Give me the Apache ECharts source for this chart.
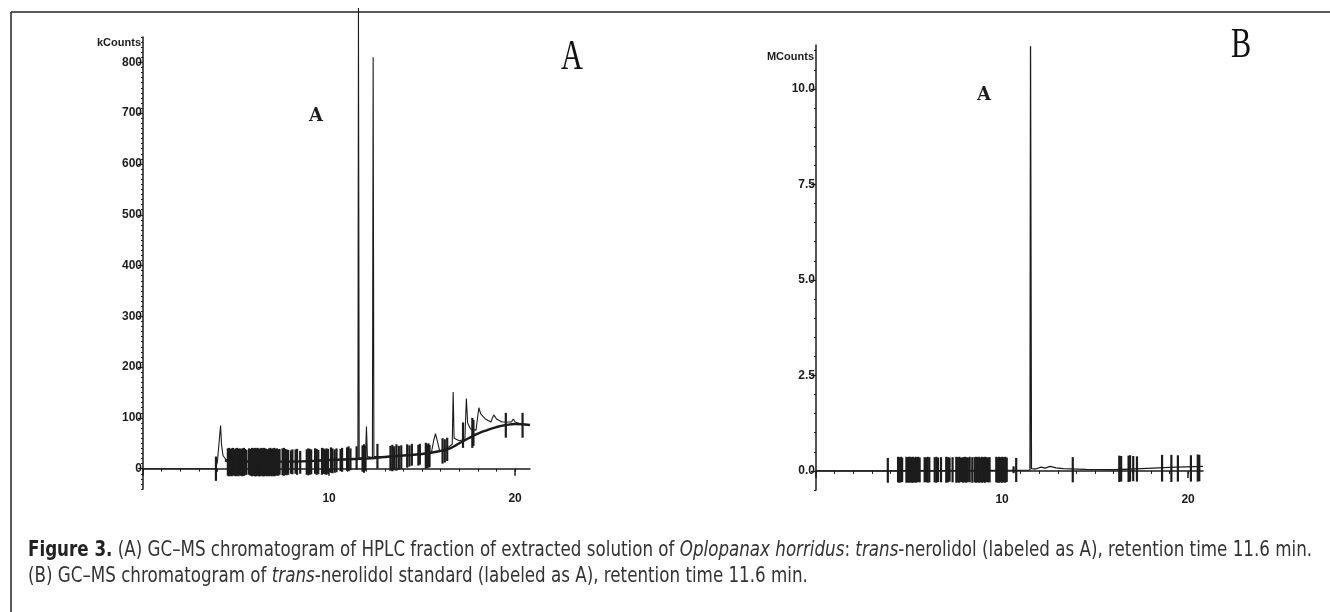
<!DOCTYPE html>
<html>
<head>
<meta charset="utf-8">
<script src="https://cdn.jsdelivr.net/npm/echarts@6/dist/echarts.min.js"></script>
<style>
  html, body { margin: 0; padding: 0; background: #fff; }
  #main { width: 1330px; height: 612px; }
</style>
</head>
<body>
<div id="main"></div>
<script>
// retention time (min) / response

// panel A : HPLC fraction, kCounts
var traceA = [
  [0, 0], [3.90, 0], [4.00, 14], [4.10, 17], [4.17, 85], [4.22, 48], [4.30, 26], [4.45, 18],
  [5.5, 15], [7.5, 14], [9.5, 15], [11.0, 19], [11.55, 20], [11.58, 907], [11.62, 21],
  [11.96, 22], [12.01, 83], [12.06, 24], [12.33, 22], [12.37, 810], [12.41, 24],
  [13.0, 24], [14.0, 26], [15.0, 29], [15.5, 31], [15.62, 55], [15.72, 69], [15.85, 50], [15.95, 34],
  [16.4, 42], [16.62, 48], [16.67, 151], [16.72, 60], [17.0, 55], [17.3, 58], [17.38, 138],
  [17.45, 90], [17.6, 78], [17.9, 76], [18.05, 120], [18.15, 108], [18.4, 98], [18.7, 92],
  [18.85, 106], [19.0, 98], [19.3, 92], [19.8, 92], [19.9, 98], [20.0, 92], [20.3, 88], [20.8, 85]
];

var baselineA = [
  [4.4, 16], [6, 14], [8, 14], [10, 17], [12, 20], [13, 23], [14, 26], [15, 29], [16, 35],
  [16.5, 40], [17, 50], [17.5, 60], [18, 69], [18.5, 76], [19, 82], [19.5, 86], [20, 88], [20.8, 86]
];

// [time, top, bottom] of the noise spikes
var spikesA = [
  [3.92, 24, -24],
  [4.56, 40, -14], [4.63, 41, -15], [4.70, 39, -14], [4.77, 40, -15], [4.84, 41, -13],
  [4.91, 38, -14], [4.98, 40, -15], [5.06, 41, -14], [5.13, 39, -15], [5.20, 40, -13],
  [5.27, 38, -14], [5.34, 40, -15], [5.42, 41, -14], [5.49, 39, -13], [5.56, 37, -12],
  [5.70, 40, -12], [5.78, 39, -14], [5.86, 41, -15], [5.94, 40, -14], [6.01, 41, -15],
  [6.08, 40, -15], [6.15, 41, -14], [6.22, 40, -15], [6.29, 39, -15], [6.36, 41, -14],
  [6.43, 40, -15], [6.50, 41, -15], [6.57, 40, -14], [6.64, 39, -15], [6.71, 38, -14],
  [6.78, 40, -15], [6.85, 41, -14], [6.92, 39, -15], [6.99, 40, -14], [7.06, 41, -15],
  [7.13, 39, -14], [7.20, 40, -13], [7.27, 38, -14], [7.34, 39, -12],
  [7.50, 40, -13], [7.57, 41, -14], [7.64, 39, -12], [7.71, 38, -13], [7.80, 37, -12],
  [7.95, 36, -10], [8.03, 38, -11],
  [8.20, 38, -10], [8.28, 39, -12], [8.45, 35, -10],
  [8.80, 38, -12], [8.88, 40, -13], [8.96, 39, -12], [9.04, 38, -11],
  [9.25, 40, -10], [9.33, 39, -12], [9.42, 37, -11],
  [9.62, 41, -12], [9.70, 40, -10], [9.78, 38, -11], [9.86, 40, -12], [9.94, 39, -10],
  [10.10, 42, -8], [10.18, 40, -9], [10.30, 38, -8], [10.40, 40, -7],
  [10.62, 39, -5], [10.70, 41, -6],
  [10.97, 42, -4], [11.05, 44, -5], [11.15, 40, -3],
  [11.48, 44, -2],
  [11.80, 46, -6], [11.88, 48, -8], [11.96, 45, -4],
  [12.60, 49, 0],
  [13.30, 45, -4], [13.40, 47, -5], [13.50, 44, -3], [13.62, 48, -4], [13.75, 45, -2], [13.88, 46, -1],
  [14.20, 48, 2], [14.32, 46, 4], [14.45, 49, 6],
  [14.80, 47, 6], [14.88, 49, 8],
  [15.20, 51, 0], [15.27, 48, 1], [15.34, 50, 2], [15.40, 47, 3],
  [16.10, 60, 10], [16.22, 58, 12], [16.35, 61, 15],
  [17.20, 91, 41],
  [17.70, 100, 41], [17.76, 96, 45],
  [19.50, 110, 61],
  [20.40, 110, 61]
];

// panel B : trans-nerolidol standard, MCounts
var traceB = [
  [0, 0], [3.8, 0], [11.50, 0.02], [11.53, 11.12], [11.58, 0.06], [11.8, 0.05], [12.1, 0.1],
  [12.3, 0.07], [12.6, 0.12], [12.9, 0.08], [13.3, 0.06], [14.5, 0.04], [16, 0.03],
  [17.5, 0.06], [19, 0.09], [20.8, 0.12]
];

var spikesB = [
  [3.86, 0.34, -0.31],
  [4.41, 0.37, -0.30], [4.48, 0.36, -0.31], [4.56, 0.37, -0.30], [4.63, 0.35, -0.29],
  [4.86, 0.37, -0.31], [4.93, 0.36, -0.30], [5.00, 0.37, -0.31], [5.07, 0.37, -0.30],
  [5.14, 0.36, -0.31], [5.21, 0.37, -0.31], [5.28, 0.35, -0.30], [5.36, 0.37, -0.31],
  [5.43, 0.36, -0.30], [5.50, 0.37, -0.29], [5.57, 0.35, -0.30],
  [5.84, 0.36, -0.30], [5.92, 0.35, -0.29], [6.00, 0.37, -0.31], [6.09, 0.36, -0.30],
  [6.38, 0.36, -0.30], [6.47, 0.37, -0.31], [6.56, 0.35, -0.29], [6.72, 0.36, -0.30],
  [7.00, 0.37, -0.31], [7.10, 0.36, -0.30], [7.18, 0.35, -0.28], [7.34, 0.36, -0.30],
  [7.54, 0.37, -0.31], [7.62, 0.36, -0.30], [7.70, 0.37, -0.31], [7.80, 0.35, -0.29],
  [7.90, 0.36, -0.31], [8.00, 0.37, -0.30], [8.08, 0.36, -0.31], [8.16, 0.35, -0.29],
  [8.26, 0.37, -0.30], [8.40, 0.36, -0.31],
  [8.53, 0.36, -0.30], [8.61, 0.37, -0.31], [8.69, 0.36, -0.30], [8.77, 0.37, -0.31],
  [8.85, 0.35, -0.30], [8.93, 0.37, -0.31], [9.01, 0.36, -0.30], [9.09, 0.37, -0.31],
  [9.17, 0.36, -0.29], [9.25, 0.35, -0.30], [9.33, 0.36, -0.30],
  [9.69, 0.37, -0.30], [9.77, 0.36, -0.31], [9.85, 0.37, -0.31], [9.93, 0.36, -0.30],
  [10.01, 0.37, -0.31], [10.09, 0.36, -0.30], [10.17, 0.37, -0.31], [10.25, 0.35, -0.29],
  [10.62, 0.12, -0.06], [10.76, 0.34, -0.29],
  [13.80, 0.36, -0.30],
  [16.30, 0.40, -0.29], [16.40, 0.39, -0.28], [16.80, 0.40, -0.29], [16.88, 0.41, -0.28],
  [17.05, 0.39, -0.27], [17.25, 0.38, -0.28],
  [18.60, 0.42, -0.28], [19.10, 0.42, -0.29], [19.45, 0.41, -0.28], [20.15, 0.41, -0.28],
  [20.52, 0.43, -0.28], [20.60, 0.42, -0.27]
];

// tick labels
var xLabels = [10, 20];
var yLabelsA = [0, 100, 200, 300, 400, 500, 600, 700, 800];
var yLabelsB = [0, 2.5, 5, 7.5, 10];

var ink = '#1c1c1c';
var capInk = '#333';
var tickFont = 'Liberation Sans, Arial, sans-serif';
var capFont = "'Liberation Sans Narrow', 'DejaVu Sans Condensed', 'Roboto Condensed', 'Liberation Sans', sans-serif";

function steps(from, to, step) {
    var out = [];
    for (var v = from; v <= to + 1e-9; v += step) {
        out.push(Math.round(v * 100) / 100);
    }
    return out;
}

function renderSpike(params, api) {
    var top = api.coord([api.value(0), api.value(1)]);
    var bot = api.coord([api.value(0), api.value(2)]);
    return {
        type: 'line',
        shape: { x1: top[0], y1: top[1], x2: bot[0], y2: bot[1] },
        style: { stroke: ink, lineWidth: 2.2 }
    };
}

function mainX(grid) {
    return {
        type: 'value', gridIndex: grid, min: 0, max: 20.8, position: 'bottom',
        axisLine: { lineStyle: { color: ink, width: 1.5 } },
        axisTick: { customValues: [0, 10, 20], length: 7, lineStyle: { color: ink, width: 1.5 } },
        axisLabel: { customValues: xLabels, color: ink, fontFamily: tickFont, fontWeight: 'bold', fontSize: 12, margin: 4 },
        splitLine: { show: false }
    };
}

function minorX(grid) {
    return {
        type: 'value', gridIndex: grid, min: 0, max: 20.8, position: 'bottom',
        axisLine: { show: false },
        axisTick: { customValues: steps(0, 20, 1), length: 3, lineStyle: { color: ink, width: 1 } },
        axisLabel: { show: false },
        splitLine: { show: false }
    };
}

function mainY(grid, min, max, labels, fmt) {
    return {
        type: 'value', gridIndex: grid, min: min, max: max, position: 'left',
        axisLine: { show: true, lineStyle: { color: ink, width: 1.5 } },
        axisTick: { show: true, customValues: labels, length: 5, lineStyle: { color: ink, width: 1.2 } },
        axisLabel: { customValues: labels, formatter: fmt, color: ink, fontFamily: tickFont, fontWeight: 'bold', fontSize: 12, margin: 1 },
        splitLine: { show: false }
    };
}

function minorY(grid, min, max, ticks) {
    return {
        type: 'value', gridIndex: grid, min: min, max: max, position: 'left',
        axisLine: { show: false },
        axisTick: { show: true, customValues: ticks, length: 2, lineStyle: { color: ink, width: 1 } },
        axisLabel: { show: false },
        splitLine: { show: false }
    };
}

var myChart = echarts.init(document.getElementById('main'));

var option = {
    backgroundColor: '#fff',
    animation: false,
    grid: [
        { left: 143, top: 37, width: 387, height: 452 },
        { left: 816, top: 45, width: 387, height: 445 }
    ],
    xAxis: [mainX(0), minorX(0), mainX(1), minorX(1)],
    yAxis: [
        mainY(0, -40, 850, yLabelsA, function (v) { return String(v); }),
        minorY(0, -40, 850, steps(-40, 850, 10)),
        mainY(1, -0.5, 11.15, yLabelsB, function (v) { return v.toFixed(1); }),
        minorY(1, -0.5, 11.15, steps(-0.5, 11, 0.5))
    ],
    series: [
        {
            type: 'line', xAxisIndex: 0, yAxisIndex: 0, data: baselineA, smooth: true,
            showSymbol: false, clip: true, lineStyle: { color: ink, width: 2.4 }
        },
        {
            type: 'line', xAxisIndex: 0, yAxisIndex: 0, data: traceA, showSymbol: false,
            clip: false, lineStyle: { color: ink, width: 1.1 }
        },
        {
            type: 'custom', xAxisIndex: 0, yAxisIndex: 0, data: spikesA,
            encode: { x: 0, y: [1, 2] }, renderItem: renderSpike
        },
        {
            type: 'line', xAxisIndex: 2, yAxisIndex: 2, data: traceB, showSymbol: false,
            clip: false, lineStyle: { color: ink, width: 1.3 }
        },
        {
            type: 'custom', xAxisIndex: 2, yAxisIndex: 2, data: spikesB,
            encode: { x: 0, y: [1, 2] }, renderItem: renderSpike
        }
    ],
    graphic: [
        // frame of the figure
        { type: 'line', shape: { x1: 11, y1: 12, x2: 1330, y2: 12 }, style: { stroke: '#222', lineWidth: 1.5 } },
        { type: 'line', shape: { x1: 11, y1: 12, x2: 11, y2: 612 }, style: { stroke: '#222', lineWidth: 1.5 } },

        { type: 'text', x: 141, y: 43, style: { text: 'kCounts', font: 'bold 11px ' + tickFont, fill: ink, align: 'right', verticalAlign: 'middle' } },
        { type: 'text', x: 814, y: 57, style: { text: 'MCounts', font: 'bold 11px ' + tickFont, fill: ink, align: 'right', verticalAlign: 'middle' } },

        { type: 'text', x: 316, y: 116, style: { text: 'A', font: 'bold 18px DejaVu Serif, serif', fill: ink, align: 'center', verticalAlign: 'middle' } },
        { type: 'text', x: 984, y: 95, style: { text: 'A', font: 'bold 18px DejaVu Serif, serif', fill: ink, align: 'center', verticalAlign: 'middle' } },

        { type: 'text', x: 572, y: 58, scaleX: 0.72, style: { text: 'A', font: '42px Liberation Serif, serif', fill: '#111', align: 'center', verticalAlign: 'middle' } },
        { type: 'text', x: 1241, y: 46, scaleX: 0.72, style: { text: 'B', font: '42px Liberation Serif, serif', fill: '#111', align: 'center', verticalAlign: 'middle' } },

        {
            type: 'text', x: 28, y: 551, scaleX: 0.885,
            style: {
                text: '{b|Figure 3.} (A) GC\u2013MS chromatogram of HPLC fraction of extracted solution of {i|Oplopanax horridus}: {i|trans}-nerolidol (labeled as A), retention time 11.6 min.',
                font: '21px ' + capFont, fill: capInk, verticalAlign: 'middle',
                rich: {
                    b: { fontWeight: 'bold', fontSize: 21, fontFamily: capFont, fill: '#222' },
                    i: { fontStyle: 'italic', fontSize: 21, fontFamily: capFont, fill: capInk }
                }
            }
        },
        {
            type: 'text', x: 28, y: 577, scaleX: 0.885,
            style: {
                text: '(B) GC\u2013MS chromatogram of {i|trans}-nerolidol standard (labeled as A), retention time 11.6 min.',
                font: '21px ' + capFont, fill: capInk, verticalAlign: 'middle',
                rich: {
                    i: { fontStyle: 'italic', fontSize: 21, fontFamily: capFont, fill: capInk }
                }
            }
        }
    ]
};

myChart.setOption(option);
</script>
</body>
</html>
